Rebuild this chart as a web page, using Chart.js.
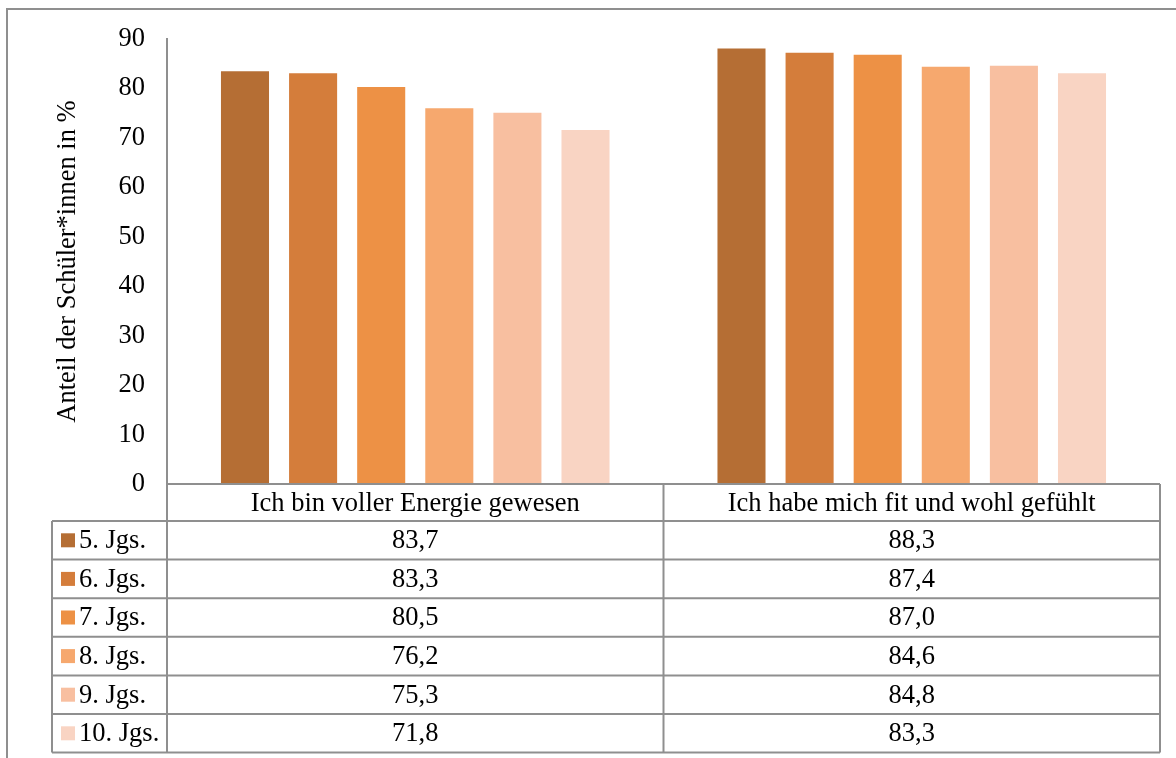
<!DOCTYPE html>
<html lang="de">
<head>
<meta charset="utf-8">
<title>Anteil der Schüler*innen</title>
<script src="https://cdn.jsdelivr.net/npm/chart.js@4.4.1/dist/chart.umd.min.js"></script>
<style>
  html, body { margin: 0; padding: 0; background: #fff; }
  #wrap { width: 1176px; height: 758px; position: relative; }
</style>
</head>
<body>
<div id="wrap"><canvas id="chart"></canvas></div>
<script>
// Kategorien (x-Achse) und Jahrgänge (Serien)
const categories = ['Ich bin voller Energie gewesen', 'Ich habe mich fit und wohl gefühlt'];
const grades = ['5. Jgs.', '6. Jgs.', '7. Jgs.', '8. Jgs.', '9. Jgs.', '10. Jgs.'];

// Werte in % je Kategorie
const energie = [83.7, 83.3, 80.5, 76.2, 75.3, 71.8];
const fitWohl = [88.3, 87.4, 87.0, 84.6, 84.8, 83.3];

// Farben der Jahrgänge
const colors = ['#b56e34', '#d47d3b', '#ed9145', '#f6a86e', '#f8bfa0', '#f9d4c3'];

const yTicks = [0, 10, 20, 30, 40, 50, 60, 70, 80, 90];

const FONT = 'Liberation Serif';
const FSIZE = 26.5;
const LINE = '#8f8f8f';
const HEADER_H = 37;   // Kopfzeile der Tabelle (Kategorienamen)
const ROW_H = 38.6;    // Zeilen der Datentabelle
const LEG_LEFT = 52;   // linker Rand der Legendenspalte

const fmt = v => v.toFixed(1).replace('.', ',');

// Datentabelle unter dem Diagramm (wie in Excel)
const dataTable = {
  id: 'dataTable',
  beforeDraw(chart) {
    const c = chart.ctx;
    c.save();
    c.strokeStyle = LINE;
    c.lineWidth = 2;
    c.beginPath();
    c.moveTo(7, 760);
    c.lineTo(7, 9);
    c.lineTo(1180, 9);
    c.stroke();
    c.restore();
  },
  afterDraw(chart) {
    const c = chart.ctx;
    const area = chart.chartArea;
    const xs = chart.scales.x;
    const left = area.left, right = area.right;
    const mid = (xs.getPixelForValue(0) + xs.getPixelForValue(1)) / 2;
    const top = area.bottom;
    const rowsTop = top + HEADER_H;
    const bottom = rowsTop + ROW_H * grades.length;
    const cols = [left, mid, right];

    c.save();
    c.strokeStyle = LINE;
    c.lineWidth = 2;
    c.beginPath();
    // horizontale Linien
    c.moveTo(left, top); c.lineTo(right, top);
    for (let i = 0; i <= grades.length; i++) {
      const y = rowsTop + i * ROW_H;
      c.moveTo(LEG_LEFT, y); c.lineTo(right, y);
    }
    // vertikale Linien
    c.moveTo(LEG_LEFT, rowsTop); c.lineTo(LEG_LEFT, bottom);
    cols.forEach(x => { c.moveTo(x, top); c.lineTo(x, bottom); });
    c.stroke();

    c.font = FSIZE + 'px "' + FONT + '"';
    c.fillStyle = '#000';
    c.textBaseline = 'middle';
    const series = [energie, fitWohl];
    grades.forEach((g, i) => {
      const yc = rowsTop + i * ROW_H + ROW_H / 2;
      c.fillStyle = colors[i];
      c.fillRect(LEG_LEFT + 9, yc - 7, 14, 14);
      c.fillStyle = '#000';
      c.textAlign = 'left';
      c.fillText(g, LEG_LEFT + 27, yc + 1);
      c.textAlign = 'center';
      series.forEach((s, k) => {
        c.fillText(fmt(s[i]), (cols[k] + cols[k + 1]) / 2, yc + 1);
      });
    });
    c.restore();
  }
};

const ctx = document.getElementById('chart').getContext('2d');
const chart = new Chart(ctx, {
  type: 'bar',
  data: {
    labels: categories,
    datasets: grades.map((g, i) => ({
      label: g,
      data: [energie[i], fitWohl[i]],
      backgroundColor: colors[i],
      borderColor: 'rgba(255,255,255,0.45)',
      borderWidth: 1,
      categoryPercentage: 0.823,
      barPercentage: 0.735
    }))
  },
  options: {
    responsive: true,
    maintainAspectRatio: false,
    animation: false,
    layout: { padding: { left: 0, right: 16, top: 39, bottom: 758 - 484 - HEADER_H } },
    plugins: {
      legend: { display: false },
      tooltip: { enabled: false }
    },
    scales: {
      x: {
        grid: { display: false, drawTicks: false },
        border: { display: false },
        ticks: {
          color: '#000',
          font: { family: FONT, size: FSIZE },
          padding: 4,
          maxRotation: 0
        },
        afterFit(scale) { scale.height = HEADER_H; }
      },
      y: {
        min: 0,
        max: 90,
        afterBuildTicks(scale) { scale.ticks = yTicks.map(v => ({ value: v })); },
        grid: { display: false, drawTicks: false },
        border: { display: true, color: LINE, width: 2 },
        ticks: {
          color: '#000',
          font: { family: FONT, size: FSIZE },
          padding: 22
        },
        title: {
          display: true,
          text: 'Anteil der Schüler*innen in %',
          color: '#000',
          font: { family: FONT, size: FSIZE },
          padding: { top: 52, bottom: 0 }
        },
        afterFit(scale) { scale.width = 167; }
      }
    }
  },
  plugins: [dataTable]
});
</script>
</body>
</html>
